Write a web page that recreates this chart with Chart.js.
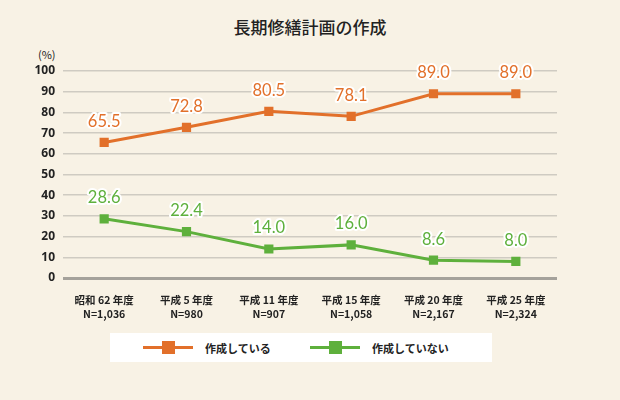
<!DOCTYPE html>
<html>
<head>
<meta charset="utf-8">
<script src="https://cdn.jsdelivr.net/npm/chart.js@4"></script>
<style>
  body { margin: 0; background: #f8f2e5; }
  .wrap { position: relative; width: 620px; height: 400px; background: #f8f2e5; font-family: "Noto Sans CJK JP", "Noto Sans", sans-serif; }
  .title { position: absolute; top: 14px; left: 0; width: 620px; text-align: center; font-size: 17px; font-weight: 500; color: #222; }
  .unit { position: absolute; top: 46px; left: 38px; font-size: 11px; color: #222; }
  .legend { position: absolute; left: 110px; top: 333px; width: 382px; height: 29px; background: #fff; font-size: 11px; font-weight: bold; color: #222; }
  .item { position: absolute; top: 0; height: 29px; display: flex; align-items: center; white-space: nowrap; }
  .mark { position: relative; flex-shrink: 0; width: 50px; height: 13px; margin-right: 12px; }
  .mark .ln { position: absolute; left: 0; top: 5px; width: 50px; height: 3px; }
  .mark .sq { position: absolute; left: 19px; top: 0; width: 13px; height: 13px; }
  canvas { position: absolute; left: 0; top: 0; }
</style>
</head>
<body>
<div class="wrap">
  <div class="title">長期修繕計画の作成</div>
  <div class="unit">(%)</div>
  <canvas id="chart" width="620" height="400"></canvas>
  <div class="legend">
    <div class="item" style="left:33px">
      <div class="mark"><div class="ln" style="background:#e2702a"></div><div class="sq" style="background:#e2702a"></div></div>作成している
    </div>
    <div class="item" style="left:200px">
      <div class="mark"><div class="ln" style="background:#5eb03c"></div><div class="sq" style="background:#5eb03c"></div></div>作成していない
    </div>
  </div>
</div>
<script>
const categories = [
  ['昭和 62 年度', 'N=1,036'],
  ['平成 5 年度', 'N=980'],
  ['平成 11 年度', 'N=907'],
  ['平成 15 年度', 'N=1,058'],
  ['平成 20 年度', 'N=2,167'],
  ['平成 25 年度', 'N=2,324']
];
const seriesNames = ['作成している', '作成していない'];
const madeValues = [65.5, 72.8, 80.5, 78.1, 89.0, 89.0];
const notMadeValues = [28.6, 22.4, 14.0, 16.0, 8.6, 8.0];
const yTicks = [0, 10, 20, 30, 40, 50, 60, 70, 80, 90, 100];

const orange = '#e2702a';
const green = '#5eb03c';

// value labels with white outline above each point
const valueLabels = {
  id: 'valueLabels',
  afterDatasetsDraw(chart) {
    const ctx = chart.ctx;
    ctx.save();
    ctx.font = '16.5px Lato, "Open Sans", sans-serif';
    ctx.textAlign = 'center';
    ctx.textBaseline = 'middle';
    ctx.lineJoin = 'round';
    chart.data.datasets.forEach(function(ds, i) {
      chart.getDatasetMeta(i).data.forEach(function(pt, j) {
        const txt = ds.data[j].toFixed(1);
        ctx.lineWidth = 4;
        ctx.strokeStyle = '#fff';
        ctx.strokeText(txt, pt.x, pt.y - 21);
        ctx.fillStyle = ds.borderColor;
        ctx.fillText(txt, pt.x, pt.y - 21);
      });
    });
    ctx.restore();
  }
};

new Chart(document.getElementById('chart'), {
  type: 'line',
  data: {
    labels: categories,
    datasets: [
      { label: seriesNames[0], data: madeValues, borderColor: orange, backgroundColor: orange },
      { label: seriesNames[1], data: notMadeValues, borderColor: green, backgroundColor: green }
    ]
  },
  options: {
    responsive: false,
    animation: false,
    layout: { padding: { top: 71, right: 63, left: 0, bottom: 0 } },
    elements: {
      line: { borderWidth: 3, tension: 0 },
      point: { pointStyle: 'rect', radius: 6.5, hoverRadius: 6.5, borderWidth: 0 }
    },
    plugins: {
      legend: { display: false },
      tooltip: { enabled: false }
    },
    scales: {
      x: {
        offset: true,
        grid: { display: false },
        border: { display: false },
        ticks: {
          color: '#222',
          padding: 7,
          maxRotation: 0,
          font: { size: 10.5, weight: 'bold', family: '"Noto Sans CJK JP", sans-serif', lineHeight: 1.35 }
        },
        afterFit(scale) { scale.height = 122; }
      },
      y: {
        min: 0,
        max: 100,
        afterBuildTicks(scale) { scale.ticks = yTicks.map(v => ({ value: v })); },
        grid: {
          drawTicks: false,
          color: ctx => ctx.tick.value === 0 ? '#a5a29b' : '#cfcbc2',
          lineWidth: ctx => ctx.tick.value === 0 ? 3 : 1.6
        },
        border: { display: false },
        ticks: {
          color: '#222',
          padding: 8,
          font: { size: 12, weight: 'bold', family: '"Open Sans", sans-serif' }
        },
        afterFit(scale) { scale.width = 63; }
      }
    }
  },
  plugins: [valueLabels]
});
</script>
</body>
</html>
